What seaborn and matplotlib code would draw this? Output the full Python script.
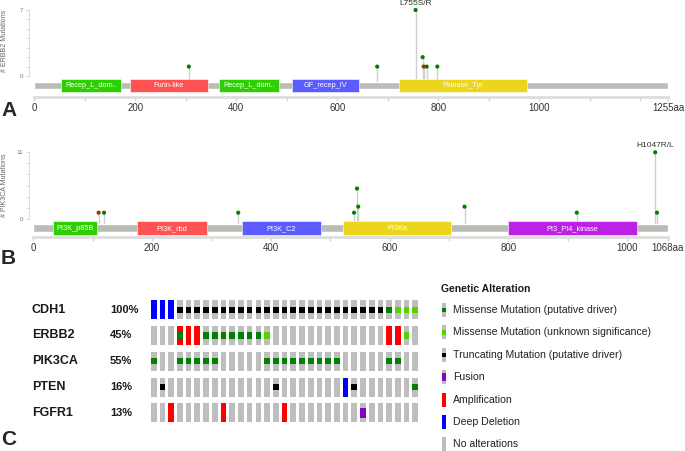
import numpy as np
import pandas as pd
import seaborn as sns
import matplotlib.pyplot as plt
from matplotlib import transforms

# ---- panel A: ERBB2 lollipop ----
erbb2_len = 1255
erbb2_dom_names = ['Recep_L_dom..', 'Furin-like', 'Recep_L_dom..', 'GF_recep_IV', 'Pkinase_Tyr']
erbb2_dom_start = [52, 190, 366, 511, 722]
erbb2_dom_end = [172, 343, 485, 643, 976]
erbb2_dom_color = ['#2dcf00', '#ff5353', '#2dcf00', '#5b5bff', '#ebd61d']
erbb2_mut_pos = [306, 679, 755, 769, 771, 777, 798]
erbb2_mut_count = [1, 1, 7, 2, 1, 1, 1]
erbb2_mut_kind = ['missense', 'missense', 'missense', 'missense', 'inframe', 'missense', 'missense']
erbb2_hot_label = 'L755S/R'

# ---- panel B: PIK3CA lollipop ----
pik3ca_len = 1068
pik3ca_dom_names = ['PI3K_p85B', 'PI3K_rbd', 'PI3K_C2', 'PI3Ka', 'PI3_PI4_kinase']
pik3ca_dom_start = [33, 175, 351, 521, 800]
pik3ca_dom_end = [108, 292, 484, 704, 1016]
pik3ca_dom_color = ['#2dcf00', '#ff5353', '#5b5bff', '#ebd61d', '#be21e6']
pik3ca_mut_pos = [110, 119, 345, 540, 545, 547, 726, 915, 1047, 1050]
pik3ca_mut_count = [1, 1, 1, 1, 5, 2, 2, 1, 11, 1]
pik3ca_mut_kind = ['inframe', 'missense', 'missense', 'missense', 'missense',
                   'missense', 'missense', 'missense', 'missense', 'missense']
pik3ca_hot_label = 'H1047R/L'

mut_palette = {'missense': '#008000', 'inframe': '#993404'}

# ---- panel C: oncoprint, one letter per sample (31 samples) ----
# D deep del, A amp, T truncating, M missense driver, m missense unknown,
# F fusion, X amp + missense, . none
genes = ['CDH1', 'ERBB2', 'PIK3CA', 'PTEN', 'FGFR1']
gene_pct = ['100%', '45%', '55%', '16%', '13%']
alt_cdh1 = "DDDTT TTTTT TTTTT TTTTT TTTTT TTMmm m"
alt_erbb2 = "...XA AMMMM MMMm. ..... ..... ..AAm ."
alt_pik3ca = "M..MM MMM.. ...MM MMMMM MM... ..MM. ."
alt_pten = ".T... ..... ....T ..... ..DT. ..... M"
alt_fgfr1 = "..A.. ...A. ..... A.... ....F ..... ."

legend_labels = ['Missense Mutation (putative driver)', 'Missense Mutation (unknown significance)',
                 'Truncating Mutation (putative driver)', 'Fusion', 'Amplification',
                 'Deep Deletion', 'No alterations']
legend_codes = ['M', 'm', 'T', 'F', 'A', 'D', '.']

W, H = 685, 451
sns.set_style('white')
plt.rcParams['font.family'] = ['Liberation Sans', 'DejaVu Sans']

fig = plt.figure(figsize=(W / 100, H / 100), dpi=100)


def px_axes(left, top, right, bottom):
    return fig.add_axes([left / W, 1 - bottom / H, (right - left) / W, (bottom - top) / H])


def lollipop(ax, length, starts, ends, names, colors, pos, counts, kinds, hot_label,
             ylabel, bb_c, bb_h, dom_h, axis_y, yminor):
    ax.barh(bb_c, length, left=0, height=bb_h, color='#babdb6', zorder=2)
    widths = np.array(ends) - np.array(starts)
    ax.barh([bb_c] * len(starts), widths, left=starts, height=dom_h, color=colors,
            edgecolor='white', linewidth=0.4, zorder=3)
    for s, e, n in zip(starts, ends, names):
        ax.text((s + e) / 2, bb_c, n, color='white', fontsize=5.3, ha='center', va='center', zorder=4)
    ax.vlines(pos, bb_c + bb_h / 2, counts, color='#cfcfcf', lw=1, zorder=1)
    df = pd.DataFrame({'pos': pos, 'count': counts, 'kind': kinds})
    sns.scatterplot(data=df, x='pos', y='count', hue='kind', palette=mut_palette, s=9,
                    linewidth=0, legend=False, ax=ax, zorder=5)
    i = int(np.argmax(counts))
    ax.annotate(hot_label, (pos[i], counts[i]), xytext=(0, 2.5), textcoords='offset points',
                ha='center', va='bottom', fontsize=6, color='#333333')

    for sp in ['top', 'right']:
        ax.spines[sp].set_visible(False)
    ax.spines['bottom'].set_position(('data', axis_y))
    ax.spines['bottom'].set_bounds(0, length)
    ax.spines['bottom'].set_color('#dddddd')
    ax.spines['bottom'].set_linewidth(2)
    ax.spines['left'].set_bounds(0, max(counts))
    ax.spines['left'].set_color('#dddddd')
    ax.spines['left'].set_linewidth(0.8)

    majors = list(range(0, 1001, 200)) + [length]
    ax.set_xticks(majors)
    ax.set_xticklabels([str(v) for v in majors[:-1]] + [f'{length}aa'])
    ax.set_xticks(list(range(100, length, 200)) + [1200] * (length > 1200), minor=True)
    ax.tick_params(axis='x', which='both', bottom=True, length=3, width=1, color='#d5d5d5',
                   labelsize=7, labelcolor='#333333', pad=1)
    ax.set_yticks([0, max(counts)])
    ax.set_yticks(yminor, minor=True)
    ax.tick_params(axis='y', which='both', left=True, length=2.5, width=0.6, color='#cccccc',
                   labelsize=4.5, labelcolor='#777777', pad=1.5)
    ax.set_xlabel('')
    ax.set_ylabel(ylabel, fontsize=5, color='#666666')


# panel A
axA = px_axes(29, 4, 670, 100)
lollipop(axA, erbb2_len, erbb2_dom_start, erbb2_dom_end, erbb2_dom_names, erbb2_dom_color,
         erbb2_mut_pos, erbb2_mut_count, erbb2_mut_kind, erbb2_hot_label, '# ERBB2 Mutations',
         bb_c=-1.007, bb_h=0.806, dom_h=1.38, axis_y=-2.23, yminor=list(range(0, 8)))
axA.set_xlim(-10.5, 1258.8)
axA.set_ylim(-2.545, 7.635)
axA.yaxis.set_label_coords(-0.033, 0.615)

# panel B
axB = px_axes(29, 140, 670, 246)
lollipop(axB, pik3ca_len, pik3ca_dom_start, pik3ca_dom_end, pik3ca_dom_names, pik3ca_dom_color,
         pik3ca_mut_pos, pik3ca_mut_count, pik3ca_mut_kind, pik3ca_hot_label, '# PIK3CA Mutations',
         bb_c=-1.59, bb_h=1.33, dom_h=2.32, axis_y=-3.08, yminor=list(np.linspace(0, 11, 7)))
axB.set_xlim(-7.24, 1071.9)
axB.set_ylim(-4.52, 13.04)
axB.yaxis.set_label_coords(-0.033, 0.575)

# panel C oncoprint
colors = {'gray': '#bebebe', 'M': '#008000', 'm': '#53d400', 'T': '#000000', 'F': '#8b00c9',
          'A': '#ff0000', 'D': '#0000ff'}


def draw_cells(ax, xs, ys, codes, w, h):
    xs = np.asarray(xs, float)
    ys = np.asarray(ys, float)
    codes = np.asarray(codes)
    ax.bar(xs, h, bottom=ys - h / 2, width=w, color=colors['gray'], linewidth=0)
    for c in ['A', 'D']:
        sel = codes == c
        ax.bar(xs[sel], h, bottom=ys[sel] - h / 2, width=w, color=colors[c], linewidth=0)
    sel = codes == 'X'
    ax.bar(xs[sel], h, bottom=ys[sel] - h / 2, width=w, color=colors['A'], linewidth=0)
    sel = codes == 'F'
    ax.bar(xs[sel], h * 0.55, bottom=ys[sel] - h * 0.275, width=w, color=colors['F'], linewidth=0)
    for c in ['M', 'm', 'T', 'X']:
        sel = codes == c
        col = colors['M'] if c == 'X' else colors[c]
        ax.bar(xs[sel], h * 0.32, bottom=ys[sel] - h * 0.16, width=w, color=col, linewidth=0)


alts = [alt_cdh1, alt_erbb2, alt_pik3ca, alt_pten, alt_fgfr1]
rows = []
for gi, (g, a) in enumerate(zip(genes, alts)):
    for si, c in enumerate(a.replace(' ', '')):
        rows.append({'gene': g, 'row': gi, 'sample': si, 'code': c})
onco = pd.DataFrame(rows)

axC = px_axes(145, 296, 425, 426)
draw_cells(axC, onco['sample'], onco['row'], onco['code'], w=0.65, h=0.73)
axC.set_xlim(-0.998, 31.11)
axC.set_ylim(4.508, -0.531)
axC.axis('off')

tr = transforms.blended_transform_factory(fig.transFigure, axC.transData)
for gi, (g, p) in enumerate(zip(genes, gene_pct)):
    axC.text(32 / W, gi, g, transform=tr, fontsize=9, fontweight='bold', va='center', ha='left',
             color='#1a1a1a')
    axC.text(110 / W, gi, p, transform=tr, fontsize=8, fontweight='bold', va='center', ha='left',
             color='#1a1a1a')

# legend
axL = px_axes(436, 280, 685, 451)
axL.set_xlim(436, 685)
axL.set_ylim(451, 280)
axL.axis('off')
item_y = 310 + 22.4 * np.arange(len(legend_labels))
draw_cells(axL, [444] * len(legend_codes), item_y, legend_codes, w=4.5, h=14)
axL.text(440.5, 289.5, 'Genetic Alteration', fontsize=7.5, fontweight='bold', va='center',
         color='#1a1a1a')
for y, lab in zip(item_y, legend_labels):
    axL.text(453, y, lab, fontsize=7.6, va='center', ha='left', color='#222222')

# panel letters
for lab, y in zip(['A', 'B', 'C'], [110.5, 259, 439.5]):
    fig.text(1 / W, 1 - y / H, lab, fontsize=15, fontweight='bold', va='center', ha='left')

fig.savefig('out.png', dpi=100)
